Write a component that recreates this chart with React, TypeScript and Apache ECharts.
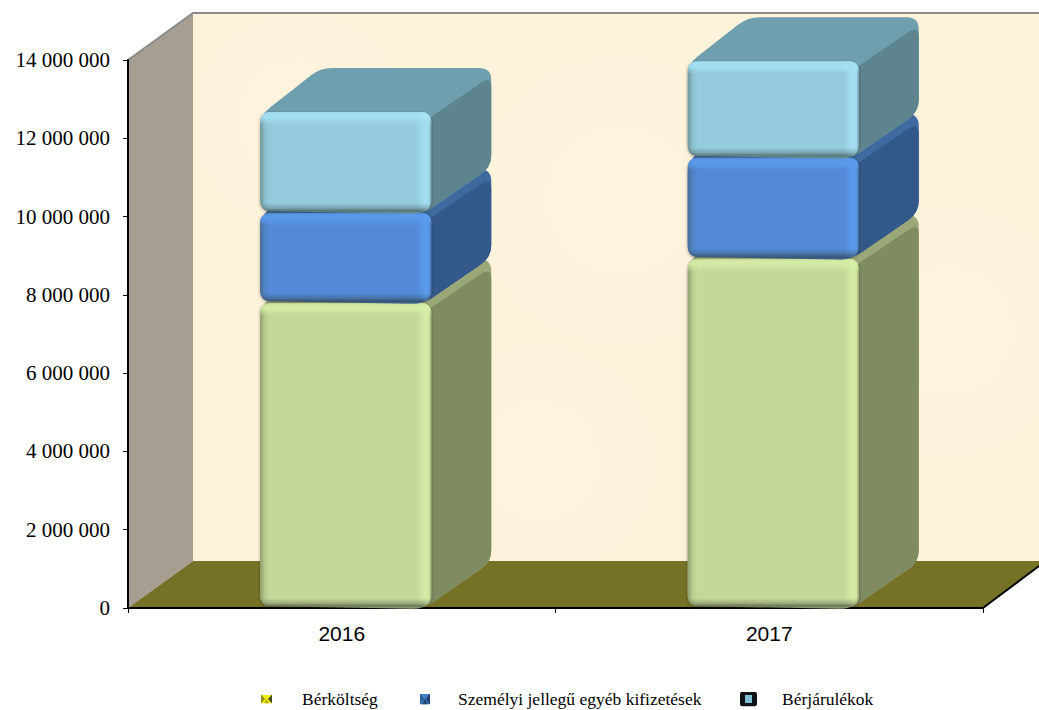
import React, { useEffect, useRef } from "react";
import * as echarts from "echarts";

const categories = ["2016", "2017"];
const berkoltseg = [7790000, 8920000];
const szemelyi = [2300000, 2580000];
const berjarulekok = [2580000, 2470000];
const seriesNames = ["Bérköltség", "Személyi jellegű egyéb kifizetések", "Bérjárulékok"];

const palette = [
  { front: "#c6d899", hi: "214,238,168", top: "#9aa878", side: "#7f8b60" },
  { front: "#5289d6", hi: "92,156,238", top: "#3f6aa0", side: "#33598a" },
  { front: "#94cbdd", hi: "166,226,244", top: "#6f9fae", side: "#5e8490" },
];

const DX = 60;
const DY = 44;
const R = 9;

function roundedPoly(pts: number[][], r: number) {
  let d = "";
  const n = pts.length;
  for (let i = 0; i < n; i++) {
    const p = pts[i];
    const a = pts[(i + n - 1) % n];
    const b = pts[(i + 1) % n];
    const la = Math.hypot(a[0] - p[0], a[1] - p[1]) || 1;
    const lb = Math.hypot(b[0] - p[0], b[1] - p[1]) || 1;
    const ra = Math.min(r, la / 2);
    const rb = Math.min(r, lb / 2);
    const s = [p[0] + ((a[0] - p[0]) * ra) / la, p[1] + ((a[1] - p[1]) * ra) / la];
    const e = [p[0] + ((b[0] - p[0]) * rb) / lb, p[1] + ((b[1] - p[1]) * rb) / lb];
    d += `${i === 0 ? "M" : "L"}${s[0]} ${s[1]}Q${p[0]} ${p[1]} ${e[0]} ${e[1]}`;
  }
  return d + "Z";
}

const grad = (x2: number, y2: number, stops: [number, string][]) => ({
  type: "linear",
  x: 0,
  y: 0,
  x2,
  y2,
  colorStops: stops.map(([offset, color]) => ({ offset, color })),
});

const makeRender = (index: number) => (params: any, api: any) => {
  const c = palette[index];
  const cat = api.value(0);
  const base = api.value(1);
  const top = api.value(2);
  const band = api.size([1, 0])[0];
  const w = band * 0.4;
  const cx = api.coord([cat, 0])[0] + 4;
  const x0 = cx - w / 2;
  const x1 = cx + w / 2;
  const yT = api.coord([cat, top])[1];
  const yB = api.coord([cat, base])[1] - 2;
  const h = yB - yT;
  const fx = (px: number) => px / w;
  const fy = (px: number) => Math.min(px / h, 0.45);
  const hi = (a: number) => `rgba(${c.hi},${a})`;

  const silhouette = [
    [x0, yT + 3],
    [x0 + DX, yT - DY],
    [x1 + DX, yT - DY],
    [x1 + DX, yB - DY],
    [x1 - 8, yB + 3],
    [x0, yB],
  ];
  const side = [
    [x1 - 8, yT + 10],
    [x1 + DX, yT - DY + 8],
    [x1 + DX, yB - DY],
    [x1 - 8, yB + 3],
  ];
  return {
    type: "group",
    children: [
      {
        type: "path",
        shape: { pathData: roundedPoly(silhouette, R + 3) },
        style: { fill: c.top },
      },
      {
        type: "path",
        shape: { pathData: roundedPoly(side, R + 3) },
        style: { fill: c.side },
      },
      {
        type: "rect",
        shape: { x: x0, y: yT, width: w, height: h, r: R },
        style: { fill: c.front, shadowBlur: 3, shadowColor: "rgba(40,40,30,0.45)", shadowOffsetY: 1 },
      },
      {
        type: "rect",
        shape: { x: x0, y: yT, width: w, height: h, r: R },
        style: {
          fill: grad(1, 0, [
            [0, "rgba(60,70,50,0.4)"],
            [fx(5), "rgba(60,70,50,0.08)"],
            [fx(10), "rgba(60,70,50,0)"],
            [1 - fx(15), hi(0)],
            [1 - fx(6), hi(0.9)],
            [1 - fx(2), hi(0.7)],
            [1, "rgba(60,70,50,0.15)"],
          ]),
        },
      },
      {
        type: "rect",
        shape: { x: x0, y: yT, width: w, height: h, r: R },
        style: {
          fill: grad(0, 1, [
            [0, hi(0.65)],
            [fy(5), hi(0.9)],
            [fy(13), hi(0)],
            [1 - fy(8), "rgba(40,50,40,0)"],
            [1 - fy(3), "rgba(40,50,40,0.25)"],
            [1, "rgba(40,50,40,0.6)"],
          ]),
        },
      },
    ],
  };
};

const svgUri = (w: number, h: number, body: string) =>
  "image://data:image/svg+xml," +
  encodeURIComponent(`<svg xmlns="http://www.w3.org/2000/svg" width="${w}" height="${h}">${body}</svg>`);

const legendIcons = [
  svgUri(11, 9, `<rect width="11" height="9" fill="#f2ee1a"/><polygon points="0,0 4,4.5 0,9" fill="#8f8d14"/><polygon points="11,0 7,4.5 11,9" fill="#4a4a18"/><polygon points="3,9 5.5,4 8,9" fill="#b8b414"/>`),
  svgUri(10, 11, `<rect width="10" height="11" fill="#3f80c8"/><polygon points="0,0 4,5.5 0,11" fill="#2a5f9c"/><polygon points="10,0 6,5.5 10,11" fill="#1f3d66"/><polygon points="2,11 5,5 8,11" fill="#24466f"/>`),
  svgUri(17, 15, `<rect width="17" height="15" rx="3" fill="#0c1216"/><rect x="5" y="3.5" width="7" height="8" fill="#7fc0d2"/>`),
];

const cumulate = (arrs: number[][], idx: number, i: number) => {
  let s = 0;
  for (let k = 0; k < idx; k++) s += arrs[k][i];
  return s;
};

const stacks = [berkoltseg, szemelyi, berjarulekok];

export default function App() {
  const ref = useRef<HTMLDivElement>(null);
  useEffect(() => {
    const chart = echarts.init(ref.current!, null, { renderer: "svg" });
    const legendTextStyle = (pad: number) => ({
      fontFamily: "Liberation Serif",
      fontSize: 17.5,
      color: "#000",
      padding: [0, 0, 0, pad],
    });
    const legendAt = (left: number, idx: number, w: number, h: number, pad: number) => ({
      left,
      top: 685,
      itemWidth: w,
      itemHeight: h,
      selectedMode: false,
      data: [{ name: seriesNames[idx], icon: legendIcons[idx] }],
      textStyle: legendTextStyle(pad),
    });
    const blotch = (cx: number, cy: number, r: number, a: number) => ({
      type: "circle",
      z: -10,
      shape: { cx, cy, r },
      style: {
        fill: {
          type: "radial",
          x: 0.5,
          y: 0.5,
          r: 0.5,
          colorStops: [
            { offset: 0, color: `rgba(255,248,230,${a})` },
            { offset: 1, color: "rgba(255,248,230,0)" },
          ],
        },
      },
    });
    chart.setOption({
      animation: false,
      backgroundColor: "#fff",
      grid: { left: 128, right: 56, top: 60, bottom: 102, containLabel: false },
      xAxis: {
        type: "category",
        data: categories,
        axisLine: { lineStyle: { color: "#000", width: 2 } },
        axisTick: { show: true, length: 5, lineStyle: { color: "#000" } },
        axisLabel: { fontFamily: "Liberation Sans", fontSize: 21, color: "#000", margin: 15 },
        splitLine: { show: false },
      },
      yAxis: {
        type: "value",
        min: 0,
        max: 14000000,
        interval: 2000000,
        axisLine: { show: true, lineStyle: { color: "#000", width: 2 } },
        axisTick: { show: true, length: 5, lineStyle: { color: "#000" } },
        splitLine: { show: false },
        axisLabel: {
          fontFamily: "Liberation Serif",
          fontSize: 21,
          color: "#000",
          margin: 18,
          formatter: (v: number) => String(v).replace(/\B(?=(\d{3})+$)/g, " "),
        },
      },
      legend: [
        legendAt(256, 0, 11, 9, 25),
        legendAt(415, 1, 10, 11, 23),
        legendAt(735, 2, 17, 15, 20),
      ],
      graphic: [
        {
          type: "rect",
          z: -11,
          shape: { x: 193, y: 13, width: 846, height: 548 },
          style: { fill: "#fdf2da" },
        },
        blotch(300, 120, 110, 0.4),
        blotch(620, 200, 150, 0.35),
        blotch(540, 460, 120, 0.35),
        blotch(950, 330, 130, 0.35),
        {
          type: "polygon",
          z: -9,
          shape: { points: [[128, 60], [193, 13], [193, 561], [128, 608]] },
          style: { fill: "#a69e90" },
        },
        {
          type: "polygon",
          z: -9,
          shape: { points: [[128, 608], [193, 561], [1039, 561], [1039, 566], [983, 608]] },
          style: { fill: "#757127" },
        },
        {
          type: "polyline",
          z: -8,
          shape: { points: [[128, 60], [193, 13], [1039, 13]] },
          style: { stroke: "#8c8c8c", lineWidth: 2, fill: "none" },
        },
        {
          type: "line",
          z: -8,
          shape: { x1: 983, y1: 608, x2: 1039, y2: 566 },
          style: { stroke: "#000", lineWidth: 2 },
        },
      ],
      series: stacks.map((values, idx) => ({
        type: "custom",
        name: seriesNames[idx],
        renderItem: makeRender(idx),
        clip: false,
        itemStyle: { color: palette[idx].front },
        encode: { x: 0, y: 2 },
        z: 2 + idx,
        data: categories.map((_, i) => [i, cumulate(stacks, idx, i), cumulate(stacks, idx, i) + values[i]]),
      })),
    });
    return () => chart.dispose();
  }, []);
  return <div ref={ref} style={{ position: "fixed", left: 0, top: 0, width: 1039, height: 710 }} />;
}
